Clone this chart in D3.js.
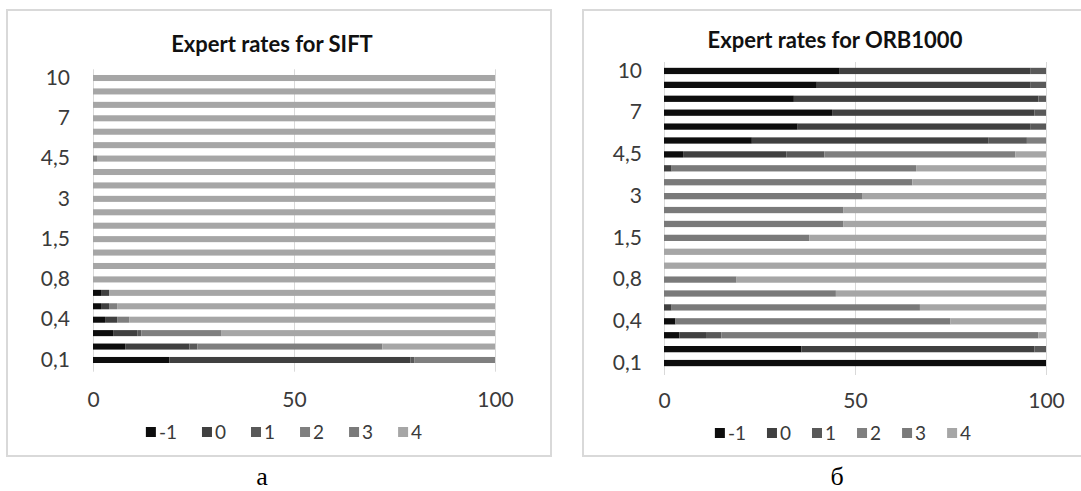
<!DOCTYPE html>
<html>
<head>
<meta charset="utf-8">
<script src="https://cdn.jsdelivr.net/npm/d3@7"></script>
<style>
  body { margin: 0; background: #fff; }
  svg { display: block; }
  text { font-family: Lato, "Open Sans", sans-serif; }
</style>
</head>
<body>
<svg id="chart" width="1081" height="491"></svg>
<script>
// categories (threshold values), bottom to top
const categories = ["0,1", "0,2", "0,3", "0,4", "0,5", "0,6", "0,8", "0,9", "1", "1,5", "2", "2,5",
  "3", "3,5", "4", "4,5", "5", "6", "7", "8", "9", "10"];
const seriesNames = ["-1", "0", "1", "2", "3", "4"];
const seriesColors = ["#0d0d0d", "#404040", "#595959", "#7f7f7f", "#7a7a7a", "#a6a6a6"];
const xTicks = [0, 50, 100];

// share of each expert rate, per category: [-1, 0, 1, 2, 3, 4]
const siftRates = [
  [19, 60, 1, 20, 0, 0],
  [8, 16, 2, 46, 0, 28],
  [5, 6, 1, 20, 0, 68],
  [3, 3, 0, 3, 0, 91],
  [2, 2, 0, 2, 0, 94],
  [2, 2, 0, 0, 0, 96],
  [0, 0, 0, 0, 0, 100],
  [0, 0, 0, 0, 0, 100],
  [0, 0, 0, 0, 0, 100],
  [0, 0, 0, 0, 0, 100],
  [0, 0, 0, 0, 0, 100],
  [0, 0, 0, 0, 0, 100],
  [0, 0, 0, 0, 0, 100],
  [0, 0, 0, 0, 0, 100],
  [0, 0, 0, 0, 0, 100],
  [0, 0, 0, 1, 0, 99],
  [0, 0, 0, 0, 0, 100],
  [0, 0, 0, 0, 0, 100],
  [0, 0, 0, 0, 0, 100],
  [0, 0, 0, 0, 0, 100],
  [0, 0, 0, 0, 0, 100],
  [0, 0, 0, 0, 0, 100]
];

const orbRates = [
  [100, 0, 0, 0, 0, 0],
  [36, 61, 3, 0, 0, 0],
  [4, 7, 4, 0, 83, 2],
  [3, 0, 0, 0, 72, 25],
  [0, 2, 0, 0, 65, 33],
  [0, 0, 0, 0, 45, 55],
  [0, 0, 0, 0, 19, 81],
  [0, 0, 0, 0, 0, 100],
  [0, 0, 0, 0, 0, 100],
  [0, 0, 0, 0, 38, 62],
  [0, 0, 0, 0, 47, 53],
  [0, 0, 0, 0, 47, 53],
  [0, 0, 0, 0, 52, 48],
  [0, 0, 0, 0, 65, 35],
  [0, 2, 0, 0, 64, 34],
  [5, 27, 10, 50, 0, 8],
  [23, 62, 10, 5, 0, 0],
  [35, 61, 4, 0, 0, 0],
  [44, 53, 3, 0, 0, 0],
  [34, 64, 2, 0, 0, 0],
  [40, 56, 4, 0, 0, 0],
  [46, 50, 4, 0, 0, 0]
];

const svg = d3.select("#chart");

const drawPanel = (cfg) => {
  const g = svg.append("g");

  // frame
  g.append("rect")
    .attr("x", cfg.frame[0]).attr("y", cfg.frame[1])
    .attr("width", cfg.frame[2] - cfg.frame[0])
    .attr("height", cfg.frame[3] - cfg.frame[1])
    .attr("fill", "none")
    .attr("stroke", "#d9d9d9")
    .attr("stroke-width", 2);

  const x = d3.scaleLinear().domain([0, 100]).range([cfg.x0, cfg.x1]);
  const y = d3.scaleBand()
    .domain(categories)
    .range([cfg.yBot, cfg.yTop])
    .paddingInner(0.55)
    .paddingOuter(0.275);

  // gridlines
  g.append("g")
    .attr("transform", "translate(0," + (cfg.yBot + 5) + ")")
    .call(d3.axisBottom(x).tickValues(xTicks).tickSize(-(cfg.yBot + 5 - cfg.yTop + 2)).tickFormat(""))
    .call(a => a.select(".domain").remove())
    .call(a => a.selectAll("line").attr("stroke", "#d9d9d9"));

  // stacked bars
  const rows = cfg.data.map((r, i) => {
    const o = { cat: categories[i] };
    seriesNames.forEach((s, j) => { o[s] = r[j]; });
    return o;
  });
  const stacked = d3.stack().keys(seriesNames)(rows);

  g.selectAll(".series")
    .data(stacked)
    .enter()
    .append("g")
    .attr("fill", (d, i) => seriesColors[i])
    .selectAll("rect")
    .data(d => d.filter(v => v[1] > v[0]))
    .enter()
    .append("rect")
    .attr("x", d => x(d[0]))
    .attr("width", d => x(d[1]) - x(d[0]))
    .attr("y", d => y(d.data.cat))
    .attr("height", y.bandwidth());

  // y axis labels
  g.append("g")
    .attr("transform", "translate(" + cfg.labelX + ",0)")
    .call(d3.axisLeft(y).tickValues(categories.filter((c, i) => i % 3 === 0)).tickSize(0).tickPadding(0))
    .call(a => a.select(".domain").remove())
    .call(a => a.selectAll("text").attr("font-size", 21).attr("fill", "#3a3a3a")
      .style("font-family", "Lato, sans-serif"));

  // x axis labels
  g.append("g")
    .attr("transform", "translate(0," + cfg.xLabelY + ")")
    .call(d3.axisBottom(x).tickValues(xTicks).tickSize(0).tickPadding(0))
    .call(a => a.select(".domain").remove())
    .call(a => a.selectAll("text").attr("font-size", 21).attr("fill", "#3a3a3a")
      .attr("dy", "0.35em").style("font-family", "Lato, sans-serif"));

  // title
  g.append("text")
    .attr("x", cfg.titleX)
    .attr("y", cfg.titleY)
    .attr("text-anchor", "middle")
    .attr("font-size", 22)
    .attr("font-weight", "bold")
    .attr("fill", "#111")
    .text(cfg.title);

  // legend
  const legend = g.append("g");
  const items = legend.selectAll("g")
    .data(seriesNames)
    .enter()
    .append("g");
  items.append("rect")
    .attr("width", 10).attr("height", 10)
    .attr("y", -5)
    .attr("fill", (d, i) => seriesColors[i]);
  items.append("text")
    .attr("x", 13)
    .attr("dy", "0.35em")
    .attr("font-size", 19)
    .attr("fill", "#3a3a3a")
    .text(d => d);
  let pos = 0;
  items.each(function () {
    const w = 13 + this.querySelector("text").getComputedTextLength();
    d3.select(this).attr("transform", "translate(" + pos + ",0)");
    pos += w + cfg.legendGap;
  });
  const total = pos - cfg.legendGap;
  legend.attr("transform", "translate(" + (cfg.legendCx - total / 2) + "," + cfg.legendY + ")");

  // caption under the panel
  svg.append("text")
    .attr("x", cfg.captionX)
    .attr("y", 485)
    .attr("text-anchor", "middle")
    .attr("font-size", 26)
    .style("font-family", "'Liberation Serif', 'Times New Roman', serif")
    .attr("fill", "#000")
    .text(cfg.caption);
};

drawPanel({
  data: siftRates,
  title: "Expert rates for SIFT",
  caption: "а",
  frame: [7, 10, 551, 456],
  x0: 93, x1: 495,
  yTop: 71.3, yBot: 366.7,
  labelX: 70,
  xLabelY: 400,
  titleX: 272, titleY: 52,
  legendCx: 284, legendY: 432, legendGap: 25,
  captionX: 262
});

drawPanel({
  data: orbRates,
  title: "Expert rates for ORB1000",
  caption: "б",
  frame: [583, 10, 1095, 456],
  x0: 664, x1: 1046,
  yTop: 64, yBot: 370,
  labelX: 642,
  xLabelY: 401,
  titleX: 835, titleY: 48,
  legendCx: 843, legendY: 433, legendGap: 21,
  captionX: 837
});
</script>
</body>
</html>
